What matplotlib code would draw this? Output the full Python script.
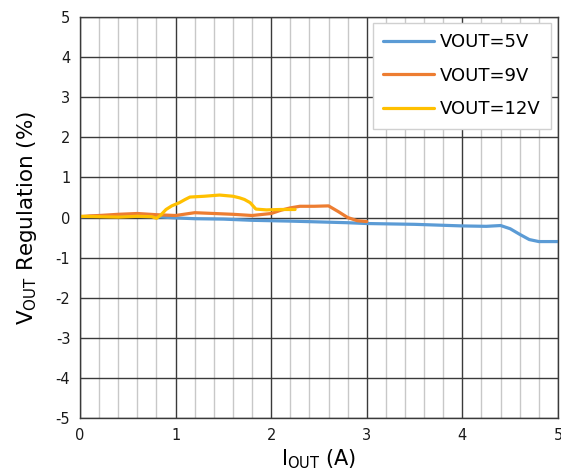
"""VOUT regulation vs IOUT, three output voltages."""
import numpy as np
import matplotlib
matplotlib.use("Agg")
import matplotlib.pyplot as plt
from matplotlib.ticker import MultipleLocator

plt.rcParams["axes.unicode_minus"] = False

# ─────────────────────── data ───────────────────────
x_5v = [0, 0.2, 0.5, 0.8, 1.0, 1.2, 1.5, 1.8, 2.0, 2.2, 2.5, 2.8, 3.0,
        3.25, 3.5, 3.75, 4.0, 4.25, 4.4, 4.5, 4.6, 4.7, 4.8, 5.0]
y_5v = [0.02, 0.03, 0.03, 0.02, -0.01, -0.03, -0.04, -0.07, -0.08, -0.09,
        -0.11, -0.13, -0.15, -0.16, -0.17, -0.19, -0.21, -0.22, -0.2,
        -0.28, -0.42, -0.55, -0.6, -0.6]

x_9v = [0, 0.1, 0.2, 0.4, 0.6, 0.8, 1.0, 1.2, 1.4, 1.6, 1.8, 2.0, 2.1,
        2.2, 2.3, 2.45, 2.6, 2.7, 2.8, 2.9, 3.0]
y_9v = [0.02, 0.04, 0.05, 0.08, 0.1, 0.07, 0.05, 0.12, 0.1, 0.08, 0.05,
        0.1, 0.18, 0.24, 0.28, 0.28, 0.29, 0.15, 0.0, -0.08, -0.1]

x_12v = [0, 0.2, 0.4, 0.6, 0.75, 0.8, 0.84, 0.9, 0.96, 1.04, 1.1, 1.15,
         1.3, 1.46, 1.6, 1.67, 1.72, 1.78, 1.84, 1.95, 2.1, 2.25]
y_12v = [0.03, 0.02, 0.01, 0.03, 0.02, -0.02, 0.05, 0.2, 0.29, 0.37, 0.45,
         0.51, 0.53, 0.56, 0.53, 0.49, 0.45, 0.37, 0.21, 0.19, 0.2, 0.2]

series = [("VOUT=5V", x_5v, y_5v, "#5B9BD5"),
          ("VOUT=9V", x_9v, y_9v, "#ED7D31"),
          ("VOUT=12V", x_12v, y_12v, "#FFC000")]

# ─────────────────────── plot ───────────────────────
fig = plt.figure(figsize=(5.61, 4.71), dpi=100)
ax = fig.add_axes([0.1426, 0.1125, 0.852, 0.8514])

for lab, xs, ys, c in series:
    ax.plot(xs, ys, color=c, lw=2.3, label=lab, solid_capstyle="round")

ax.set_xlim(0, 5); ax.set_ylim(-5, 5)
ax.xaxis.set_major_locator(MultipleLocator(1))
ax.xaxis.set_minor_locator(MultipleLocator(0.2))
ax.yaxis.set_major_locator(MultipleLocator(1))
ax.grid(which="major", color="#3a3a3a", lw=1.0)
ax.grid(which="minor", axis="x", color="#c8c8c8", lw=1.0)
ax.set_axisbelow(True)
for s in ax.spines.values():
    s.set_color("#3a3a3a"); s.set_linewidth(1.0)
ax.tick_params(which="both", length=0, labelsize=10.5, colors="#1a1a1a", pad=7)

ax.set_xlabel(r"I$_{\mathregular{OUT}}$ (A)", fontsize=15, labelpad=3)
ax.set_ylabel(r"V$_{\mathregular{OUT}}$ Regulation (%)", fontsize=15.5,
              labelpad=12)

leg = ax.legend(loc="upper right", bbox_to_anchor=(0.993, 0.995),
                fontsize=13, frameon=True, fancybox=False,
                handlelength=2.8, handletextpad=0.3, labelspacing=0.85,
                borderpad=0.6, borderaxespad=0.2)
leg.get_frame().set_edgecolor("#d0d0d0")
leg.get_frame().set_facecolor("white")
leg.get_frame().set_alpha(1.0)
leg.get_frame().set_linewidth(1.0)

fig.savefig("out.png", dpi=100)
